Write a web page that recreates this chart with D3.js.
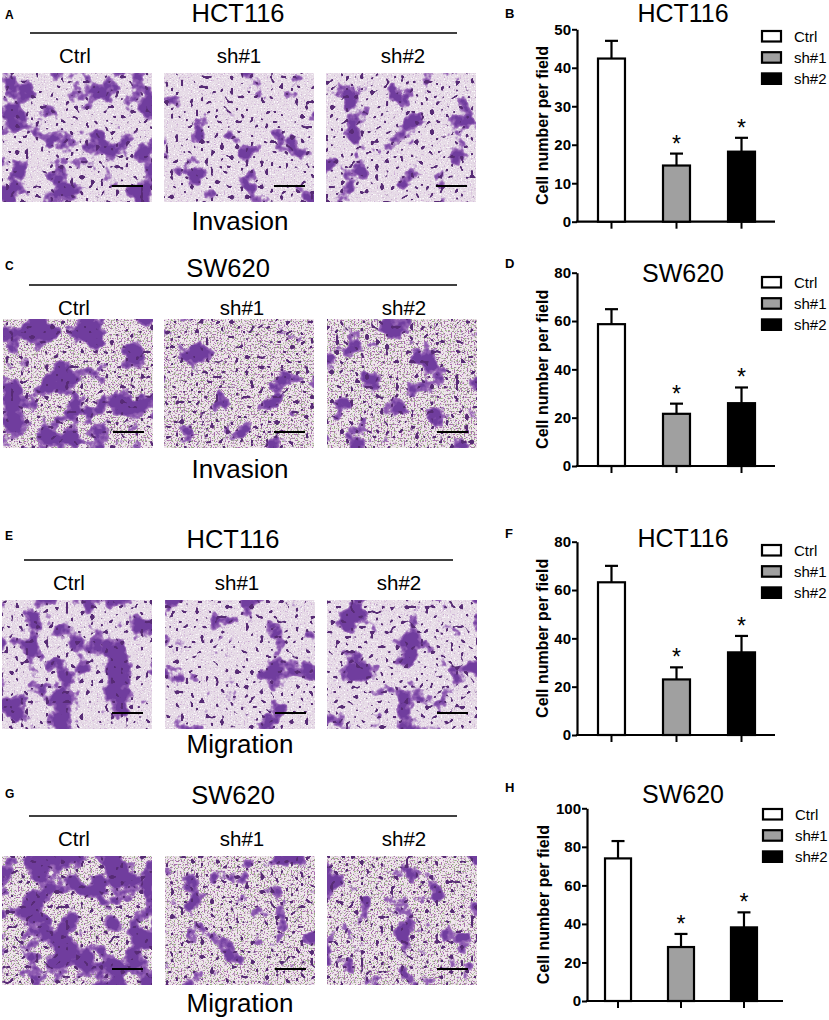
<!DOCTYPE html>
<html>
<head>
<meta charset="utf-8">
<script src="https://cdn.jsdelivr.net/npm/d3@7"></script>
<style>
  html, body { margin: 0; padding: 0; background: #fff; }
  svg { display: block; font-family: "Liberation Sans", Arial, Helvetica, sans-serif; }
</style>
</head>
<body>
<script>
// ---------------- DATA ----------------
const groups = ["Ctrl", "sh#1", "sh#2"];

const invHctMean = [42.4, 14.6, 18.2];
const invHctErr  = [4.6, 3.1, 3.6];
const invSwMean  = [58.7, 21.6, 26.0];
const invSwErr   = [6.2, 4.2, 6.5];
const migHctMean = [63.2, 23.0, 34.2];
const migHctErr  = [6.8, 5.0, 6.8];
const migSwMean  = [74.0, 28.0, 38.2];
const migSwErr   = [9.0, 6.8, 7.8];

const ticksInvHct = [0, 10, 20, 30, 40, 50];
const ticksInvSw  = [0, 20, 40, 60, 80];
const ticksMigHct = [0, 20, 40, 60, 80];
const ticksMigSw  = [0, 20, 40, 60, 80, 100];

const cellLines = ["HCT116", "SW620", "HCT116", "SW620"];
const assays = ["Invasion", "Invasion", "Migration", "Migration"];
const leftLetters = ["A", "C", "E", "G"];
const rightLetters = ["B", "D", "F", "H"];
const significant = [false, true, true];
const yLabel = "Cell number per field";

// ---------------- STYLE / LAYOUT ----------------
const W = 829, H = 1020;
const FONT = '"Liberation Sans", Arial, Helvetica, sans-serif';
const barFills = ["#ffffff", "#a0a0a0", "#000000"];

const svg = d3.select("body").append("svg")
  .attr("width", W).attr("height", H).attr("viewBox", `0 0 ${W} ${H}`);
svg.append("rect").attr("width", W).attr("height", H).attr("fill", "#fff");
const defs = svg.append("defs");

// decorative microscopy texture (procedural SVG noise filter)
function makeFilter(id, seed, tBlob, tDot, sw) {
  const f = defs.append("filter").attr("id", id)
    .attr("x", 0).attr("y", 0).attr("width", 1).attr("height", 1)
    .attr("color-interpolation-filters", "sRGB");
  f.append("feFlood").attr("flood-color", sw ? "#efe6ec" : "#e6dbe6").attr("result", "bg");
  f.append("feTurbulence").attr("type", "fractalNoise").attr("baseFrequency", 0.7)
    .attr("numOctaves", 1).attr("seed", seed + 11).attr("result", "n0");
  f.append("feColorMatrix").attr("in", "n0").attr("type", "matrix")
    .attr("values", sw
      ? "0 0 0 0 0.60 0 0 0 0 0.68 0 0 0 0 0.52 9 0 0 0 -5.0"
      : "0 0 0 0 1 0 0 0 0 1 0 0 0 0 1 5 0 0 0 -2.8")
    .attr("result", "speck");
  f.append("feColorMatrix").attr("in", "n0").attr("type", "matrix")
    .attr("values", sw
      ? "0 0 0 0 0.66 0 0 0 0 0.42 0 0 0 0 0.68 0 9 0 0 -5.0"
      : "0 0 0 0 0.78 0 0 0 0 0.64 0 0 0 0 0.82 0 5 0 0 -2.9")
    .attr("result", "speck2");
  f.append("feTurbulence").attr("type", "fractalNoise").attr("baseFrequency", 0.038)
    .attr("numOctaves", 4).attr("seed", seed).attr("result", "n1");
  f.append("feColorMatrix").attr("in", "n1").attr("type", "matrix")
    .attr("values", `0 0 0 0 0.58 0 0 0 0 0.38 0 0 0 0 0.71 18 0 0 0 ${-18 * tBlob}`)
    .attr("result", "blob");
  f.append("feColorMatrix").attr("in", "n1").attr("type", "matrix")
    .attr("values", `0 0 0 0 0.44 0 0 0 0 0.24 0 0 0 0 0.62 18 0 0 0 ${-18 * (tBlob + 0.06)}`)
    .attr("result", "core");
  f.append("feTurbulence").attr("type", "fractalNoise").attr("baseFrequency", 0.2)
    .attr("numOctaves", 1).attr("seed", seed + 50).attr("result", "n2");
  f.append("feColorMatrix").attr("in", "n2").attr("type", "matrix")
    .attr("values", `0 0 0 0 0.34 0 0 0 0 0.17 0 0 0 0 0.46 0 24 0 0 ${-24 * tDot}`)
    .attr("result", "dots");
  const m = f.append("feMerge");
  ["bg", "speck", "speck2", "blob", "core", "dots"].forEach(n => m.append("feMergeNode").attr("in", n));
}

const leftRows = [
  { titleX: 238, titleY: 22, lineY: 33, lineX0: 30, lineX1: 457, labY: 63, labX: [75, 239, 403],
    imgY: 73, imgX: [2, 164, 326], assayY: 230, letterY: 19 },
  { titleX: 228, titleY: 277, lineY: 285, lineX0: 29, lineX1: 457, labY: 315, labX: [74, 242, 404],
    imgY: 319, imgX: [3, 164, 327], assayY: 478, letterY: 270 },
  { titleX: 233, titleY: 548, lineY: 560, lineX0: 24, lineX1: 453, labY: 590, labX: [69, 237, 399],
    imgY: 600, imgX: [2, 165, 327], assayY: 753, letterY: 540 },
  { titleX: 233, titleY: 804, lineY: 816, lineX0: 29, lineX1: 457, labY: 846, labX: [74, 242, 404],
    imgY: 856, imgX: [2, 165, 327], assayY: 1012, letterY: 798 }
];
const imgW = 150, imgH = 129;
const blobThresh = [[0.52, 0.62, 0.59], [0.49, 0.61, 0.57], [0.51, 0.60, 0.57], [0.46, 0.59, 0.58]];

leftRows.forEach((r, ri) => {
  const g = svg.append("g");
  g.append("text").attr("x", 5).attr("y", r.letterY).attr("font-size", 12).attr("font-weight", "bold")
    .text(leftLetters[ri]);
  g.append("text").attr("x", r.titleX).attr("y", r.titleY).attr("text-anchor", "middle")
    .attr("font-size", 25.5).text(cellLines[ri]);
  g.append("line").attr("x1", r.lineX0).attr("x2", r.lineX1).attr("y1", r.lineY).attr("y2", r.lineY)
    .attr("stroke", "#000").attr("stroke-width", 1.5);
  groups.forEach((gr, i) => {
    g.append("text").attr("x", r.labX[i]).attr("y", r.labY).attr("text-anchor", "middle")
      .attr("font-size", 20.5).text(gr);
    const fid = `cells-${ri}-${i}`;
    makeFilter(fid, 7 + ri * 13 + i * 5, blobThresh[ri][i], 0.64, ri % 2 === 1);
    g.append("rect").attr("x", r.imgX[i]).attr("y", r.imgY).attr("width", imgW).attr("height", imgH)
      .attr("fill", "#e6dbe6").attr("filter", `url(#${fid})`);
    g.append("line").attr("x1", r.imgX[i] + 110).attr("x2", r.imgX[i] + 141)
      .attr("y1", r.imgY + 113).attr("y2", r.imgY + 113).attr("stroke", "#000").attr("stroke-width", 2);
  });
  g.append("text").attr("x", 240).attr("y", r.assayY).attr("text-anchor", "middle")
    .attr("font-size", 26).text(assays[ri]);
});

// ---------------- BAR CHARTS ----------------
const charts = [
  { mean: invHctMean, err: invHctErr, ticks: ticksInvHct, axisX: 577, xEnd: 775, bandEnd: 776,
    pIn: 0.585, pOut: 0.323, yTop: 29.3, yBase: 221.7, titleY: 22, letterY: 18, legY: 31, legX: 762, labX: 548 },
  { mean: invSwMean, err: invSwErr, ticks: ticksInvSw, axisX: 577, xEnd: 775, bandEnd: 776,
    pIn: 0.585, pOut: 0.323, yTop: 272.7, yBase: 466, titleY: 282, letterY: 268, legY: 277, legX: 762, labX: 548 },
  { mean: migHctMean, err: migHctErr, ticks: ticksMigHct, axisX: 577, xEnd: 775, bandEnd: 776,
    pIn: 0.585, pOut: 0.323, yTop: 541.7, yBase: 735, titleY: 547, letterY: 538, legY: 545, legX: 762, labX: 548 },
  { mean: migSwMean, err: migSwErr, ticks: ticksMigSw, axisX: 587, xEnd: 783, bandEnd: 775,
    pIn: 0.587, pOut: 0.286, yTop: 808.3, yBase: 1001, titleY: 803, letterY: 792, legY: 809, legX: 763, labX: 549 }
];

charts.forEach((c, ci) => {
  const g = svg.append("g");
  const y = d3.scaleLinear().domain([0, d3.max(c.ticks)]).range([c.yBase, c.yTop]);
  const x = d3.scaleBand().domain(groups).range([c.axisX, c.bandEnd])
    .paddingInner(c.pIn).paddingOuter(c.pOut);

  g.append("text").attr("x", 505).attr("y", c.letterY).attr("font-size", 13).attr("font-weight", "bold")
    .text(rightLetters[ci]);
  g.append("text").attr("x", 683).attr("y", c.titleY).attr("text-anchor", "middle")
    .attr("font-size", 25).text(cellLines[ci]);

  // y axis
  const ya = g.append("g").attr("transform", `translate(${c.axisX},0)`)
    .call(d3.axisLeft(y).tickValues(c.ticks).tickSize(5).tickSizeOuter(0).tickPadding(1));
  ya.select(".domain").attr("stroke-width", 2.2);
  ya.selectAll(".tick line").attr("stroke-width", 2);
  ya.selectAll(".tick text").attr("font-size", 15).attr("font-weight", "bold")
    .attr("font-family", FONT).attr("fill", "#000");

  // x axis
  const xa = g.append("g").attr("transform", `translate(0,${c.yBase})`)
    .call(d3.axisBottom(x).tickSize(7).tickSizeOuter(0).tickFormat(""));
  xa.select(".domain").remove();
  xa.selectAll(".tick line").attr("stroke-width", 2);
  g.append("line").attr("x1", c.axisX - 1.1).attr("x2", c.xEnd).attr("y1", c.yBase).attr("y2", c.yBase)
    .attr("stroke", "#000").attr("stroke-width", 2.2);

  // y label
  g.append("text").attr("transform", `translate(${c.labX},${(c.yTop + c.yBase) / 2}) rotate(-90)`)
    .attr("text-anchor", "middle").attr("font-size", 16).attr("font-weight", "bold").text(yLabel);

  const rows = groups.map((gr, i) => ({ gr, m: c.mean[i], e: c.err[i], fill: barFills[i], sig: significant[i] }));

  // error bars (upper only)
  const eb = g.selectAll(".eb").data(rows).enter().append("g");
  eb.append("line")
    .attr("x1", d => x(d.gr) + x.bandwidth() / 2).attr("x2", d => x(d.gr) + x.bandwidth() / 2)
    .attr("y1", d => y(d.m)).attr("y2", d => y(d.m + d.e))
    .attr("stroke", "#000").attr("stroke-width", 2.2);
  eb.append("line")
    .attr("x1", d => x(d.gr) + x.bandwidth() / 2 - 6.5).attr("x2", d => x(d.gr) + x.bandwidth() / 2 + 6.5)
    .attr("y1", d => y(d.m + d.e)).attr("y2", d => y(d.m + d.e))
    .attr("stroke", "#000").attr("stroke-width", 2.2);

  // bars
  g.selectAll(".bar").data(rows).enter().append("rect")
    .attr("x", d => x(d.gr)).attr("width", x.bandwidth())
    .attr("y", d => y(d.m)).attr("height", d => y(0) - y(d.m))
    .attr("fill", d => d.fill).attr("stroke", "#000").attr("stroke-width", 2.2);

  // significance
  g.selectAll(".sig").data(rows.filter(d => d.sig)).enter().append("text")
    .attr("x", d => x(d.gr) + x.bandwidth() / 2).attr("y", d => y(d.m + d.e) - 2)
    .attr("text-anchor", "middle").attr("font-size", 23).text("*");

  // legend
  const lg = g.selectAll(".leg").data(rows).enter().append("g")
    .attr("transform", (d, i) => `translate(${c.legX},${c.legY + i * 21.2})`);
  lg.append("rect").attr("width", 19).attr("height", 10.5)
    .attr("fill", d => d.fill).attr("stroke", "#000").attr("stroke-width", 2.2);
  lg.append("text").attr("x", 32).attr("y", 10.5).attr("font-size", 15).text(d => d.gr);
});
</script>
</body>
</html>
